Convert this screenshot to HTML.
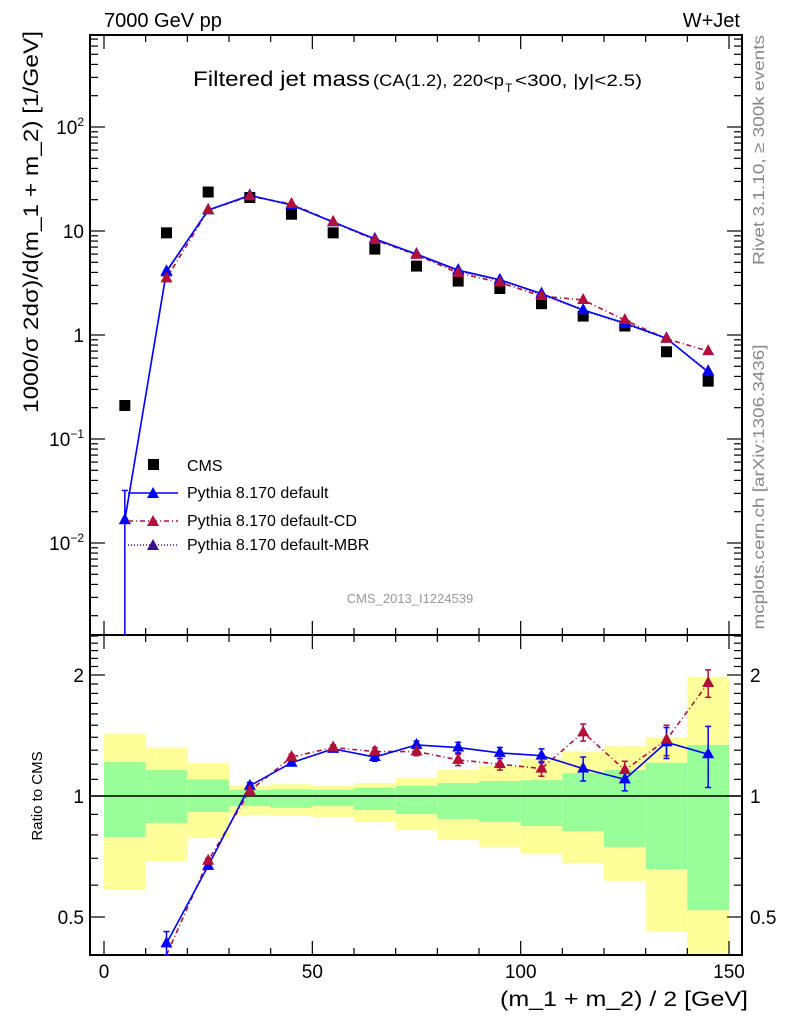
<!DOCTYPE html>
<html><head><meta charset="utf-8"><style>
html,body{margin:0;padding:0;background:#fff;}
svg{display:block;font-family:"Liberation Sans",sans-serif;}
</style></head><body>
<svg id="chart" width="786" height="1024" viewBox="0 0 786 1024">
<g id="bands"></g>
<g id="grid"></g>
<g id="series"></g>
<text x="104" y="27" font-size="20">7000 GeV pp</text>
<text x="740" y="27" font-size="20" text-anchor="end">W+Jet</text>
<text x="193" y="86" font-size="21" textLength="177" lengthAdjust="spacingAndGlyphs">Filtered jet mass</text>
<text x="373" y="86" font-size="17" textLength="131" lengthAdjust="spacingAndGlyphs">(CA(1.2), 220&lt;p</text>
<text x="505" y="92" font-size="12">T</text>
<text x="515" y="86" font-size="17" textLength="127" lengthAdjust="spacingAndGlyphs">&lt;300, |y|&lt;2.5)</text>
<text transform="translate(38,222) rotate(-90)" font-size="21" text-anchor="middle" textLength="382" lengthAdjust="spacingAndGlyphs">1000/σ 2dσ)/d(m_1 + m_2) [1/GeV]</text>
<text transform="translate(42,796) rotate(-90)" font-size="15" text-anchor="middle">Ratio to CMS</text>
<text x="748" y="1006" font-size="21" text-anchor="end" textLength="248" lengthAdjust="spacingAndGlyphs">(m_1 + m_2) / 2 [GeV]</text>
<text transform="translate(764,150) rotate(-90)" font-size="16" fill="#888" text-anchor="middle" textLength="230" lengthAdjust="spacingAndGlyphs">Rivet 3.1.10, ≥ 300k events</text>
<text transform="translate(764,487) rotate(-90)" font-size="16" fill="#888" text-anchor="middle" textLength="285" lengthAdjust="spacingAndGlyphs">mcplots.cern.ch [arXiv:1306.3436]</text>
<text x="410" y="603" font-size="13" fill="#999" text-anchor="middle">CMS_2013_I1224539</text>
<g>
<rect x="148" y="459" width="11" height="11" fill="#000"/>
<text x="187" y="471" font-size="16">CMS</text>
<line x1="128" y1="493" x2="178" y2="493" stroke="#00f" stroke-width="1.5"/>
<polygon points="153,487 147,498 159,498" fill="#00f"/>
<text x="187" y="498" font-size="16">Pythia 8.170 default</text>
<line x1="128" y1="521" x2="178" y2="521" stroke="#b0103a" stroke-width="1.5" stroke-dasharray="5,3,1,3"/>
<polygon points="153,515 147,526 159,526" fill="#b0103a"/>
<text x="187" y="526" font-size="16">Pythia 8.170 default-CD</text>
<line x1="128" y1="545" x2="178" y2="545" stroke="#3a1090" stroke-width="1.5" stroke-dasharray="1,2"/>
<polygon points="153,539 147,550 159,550" fill="#3a1090"/>
<text x="187" y="550" font-size="16">Pythia 8.170 default-MBR</text>
</g>
</svg>
<script>
const binCenters=[5,15,25,35,45,55,65,75,85,95,105,115,125,135,145];
const cmsValues=[0.21,9.6,23.7,21,14.5,9.6,6.7,4.6,3.3,2.8,2.0,1.52,1.22,0.69,0.36];
const defaultValues=[0.0166,4.1,15.9,22,17.8,12.2,8.4,6.0,4.2,3.4,2.5,1.74,1.3,0.93,0.44];
const cdValues=[null,3.5,15.9,21.6,18.2,12.2,8.2,5.9,3.95,3.2,2.37,2.17,1.39,0.92,0.70];
const mbrValues=[0.0166,4.0,15.8,21.8,17.9,12.1,8.3,5.95,4.1,3.35,2.45,1.72,1.28,0.92,0.45];
const defaultRatio=[null,0.43,0.67,1.06,1.21,1.31,1.25,1.34,1.32,1.28,1.26,1.17,1.10,1.36,1.27];
const cdRatio=[null,0.37,0.69,1.03,1.25,1.32,1.29,1.29,1.23,1.20,1.17,1.44,1.16,1.38,1.91];
const defaultRatioErr=[0,0.03,0.01,0.02,0.02,0.02,0.03,0.03,0.04,0.04,0.05,0.08,0.07,0.12,0.22];
const cdRatioErr=[0,0.03,0.01,0.02,0.02,0.02,0.03,0.03,0.04,0.04,0.05,0.07,0.06,0.12,0.15];
const greenUp=[1.215,1.16,1.10,1.035,1.04,1.035,1.047,1.06,1.077,1.09,1.095,1.14,1.16,1.21,1.34];
const greenLo=[0.791,0.857,0.912,0.944,0.934,0.944,0.923,0.902,0.877,0.862,0.842,0.818,0.747,0.658,0.52];
const yellowUp=[1.43,1.32,1.21,1.06,1.07,1.06,1.077,1.11,1.16,1.19,1.24,1.29,1.33,1.40,1.98];
const yellowLo=[0.584,0.689,0.786,0.897,0.892,0.887,0.862,0.823,0.777,0.747,0.717,0.681,0.615,0.46,0.39];
const xTicks=[0,50,100,150];
const yTickExp=[-2,-1,0,1,2];
const yTickLabels=["10<tspan font-size='12' dy='-8'>−2</tspan>","10<tspan font-size='12' dy='-8'>−1</tspan>","1","10","10<tspan font-size='12' dy='-8'>2</tspan>"];
const rTicks=[0.5,1,2];
const rTickLabels=["0.5","1","2"];

const NS="http://www.w3.org/2000/svg";
const L=90,R=742,T=35,M=635,B=955;
const X=v=>104+v*4.1667;
const Y=v=>335-Math.log10(v)*104;
const RY=v=>796-Math.log2(v)*121;
const clampM=y=>Math.min(Math.max(y,T),M);
const clampR=y=>Math.min(Math.max(y,M),B);
function mk(tag,attrs,parent){const e=document.createElementNS(NS,tag);for(const k in attrs)e.setAttribute(k,attrs[k]);parent.appendChild(e);return e;}
const bands=document.getElementById('bands'),grid=document.getElementById('grid'),ser=document.getElementById('series');

binCenters.forEach((c,i)=>{
  const x0=X(c-5),x1=X(c+5);
  const y1=clampR(RY(yellowUp[i])),y2=clampR(RY(yellowLo[i]));
  const ry=mk('rect',{x:x0,y:y1,width:x1-x0,height:y2-y1,fill:'#ffff99'},bands);
  
  
  const g1=clampR(RY(greenUp[i])),g2=clampR(RY(greenLo[i]));
  const rg=mk('rect',{x:x0,y:g1,width:x1-x0,height:g2-g1,fill:'#99ff99'},bands);
  
  
});

mk('rect',{x:L,y:T,width:R-L,height:M-T,fill:'none',stroke:'#000','stroke-width':2},grid);
mk('rect',{x:L,y:M,width:R-L,height:B-M,fill:'none',stroke:'#000','stroke-width':2},grid);
mk('line',{x1:L,y1:796,x2:R,y2:796,stroke:'#000','stroke-width':1.5},grid);
for(let v=0;v<=150;v+=10){
  const x=X(v),len=(v%50===0)?14:7;
  [T,M].forEach(yy=>mk('line',{x1:x,y1:yy,x2:x,y2:yy+len,stroke:'#000','stroke-width':1.2},grid));
  [M,B].forEach(yy=>mk('line',{x1:x,y1:yy,x2:x,y2:yy-len,stroke:'#000','stroke-width':1.2},grid));
}
xTicks.forEach(v=>{const t=mk('text',{x:X(v),y:978,'font-size':19,'text-anchor':'middle'},grid);t.textContent=v;
  
  });
for(let e=-3;e<=2;e++){for(let m=1;m<10;m++){const y=Y(m*Math.pow(10,e));if(y<T||y>M)continue;const len=m===1?15:8;
  mk('line',{x1:L,y1:y,x2:L+len,y2:y,stroke:'#000','stroke-width':1.2},grid);
  mk('line',{x1:R,y1:y,x2:R-len,y2:y,stroke:'#000','stroke-width':1.2},grid);}}
yTickExp.forEach((e,i)=>{const t=mk('text',{x:84,y:Y(Math.pow(10,e))+7,'font-size':19,'text-anchor':'end'},grid);t.innerHTML=yTickLabels[i];
  
  });
for(let v=0.4;v<2.55;v+=0.1){const y=RY(v);if(y<M||y>B)continue;const maj=[0.5,1,2].some(r=>Math.abs(r-v)<1e-6);const len=maj?15:8;
  mk('line',{x1:L,y1:y,x2:L+len,y2:y,stroke:'#000','stroke-width':1.2},grid);
  mk('line',{x1:R,y1:y,x2:R-len,y2:y,stroke:'#000','stroke-width':1.2},grid);}
rTicks.forEach((v,i)=>{[84,750].forEach((xx,j)=>{const t=mk('text',{x:xx,y:RY(v)+7,'font-size':19,'text-anchor':j?'start':'end'},grid);t.textContent=rTickLabels[i];
  
  });});

function tri(x,y,col,name){const p=mk('polygon',{points:`${x},${y-7} ${x-6},${y+4} ${x+6},${y+4}`,fill:col},ser);
  
  }
function line(vals,fy,clamp,col,dash,name){let pts=[];vals.forEach((v,i)=>{if(v==null)return;pts.push(X(binCenters[i])+','+clamp(fy(v)));});
  const pl=mk('polyline',{points:pts.join(' '),fill:'none',stroke:col,'stroke-width':1.6,'stroke-dasharray':dash},ser);
  
  }

line(mbrValues,Y,clampM,'#3a1090','1,2','mbr-line');
line(cdValues,Y,clampM,'#b0103a','5,3,1,3','cd-line');
line(defaultValues,Y,clampM,'#00f','','default-line');
mk('line',{x1:X(5),y1:Y(0.032),x2:X(5),y2:M,stroke:'#00f','stroke-width':1.5},ser);
mk('line',{x1:X(5)-3,y1:Y(0.032),x2:X(5)+3,y2:Y(0.032),stroke:'#00f','stroke-width':1.5},ser);
cmsValues.forEach((v,i)=>{const r=mk('rect',{x:X(binCenters[i])-5.5,y:Y(v)-5.5,width:11,height:11,fill:'#000'},ser);
  
  });
mbrValues.forEach((v,i)=>tri(X(binCenters[i]),Y(v),'#3a1090','mbr-point'));
defaultValues.forEach((v,i)=>tri(X(binCenters[i]),Y(v),'#00f','default-point'));
cdValues.forEach((v,i)=>{if(v!=null)tri(X(binCenters[i]),Y(v),'#b0103a','cd-point');});

line(cdRatio,RY,clampR,'#b0103a','5,3,1,3','cd-ratio-line');
line(defaultRatio,RY,clampR,'#00f','','default-ratio-line');
function errs(vals,err,col){vals.forEach((v,i)=>{if(v==null||!err[i])return;const x=X(binCenters[i]);const a=clampR(RY(v+err[i])),b=clampR(RY(v-err[i]));
  mk('line',{x1:x,y1:a,x2:x,y2:b,stroke:col,'stroke-width':1.5},ser);
  mk('line',{x1:x-3,y1:a,x2:x+3,y2:a,stroke:col,'stroke-width':1.5},ser);
  mk('line',{x1:x-3,y1:b,x2:x+3,y2:b,stroke:col,'stroke-width':1.5},ser);});}
errs(cdRatio,cdRatioErr,'#b0103a');
errs(defaultRatio,defaultRatioErr,'#00f');
defaultRatio.forEach((v,i)=>{if(v!=null&&RY(v)<B)tri(X(binCenters[i]),RY(v),'#00f','default-ratio-point');});
cdRatio.forEach((v,i)=>{if(v!=null&&RY(v)<B)tri(X(binCenters[i]),RY(v),'#b0103a','cd-ratio-point');});
</script>
</body></html>
